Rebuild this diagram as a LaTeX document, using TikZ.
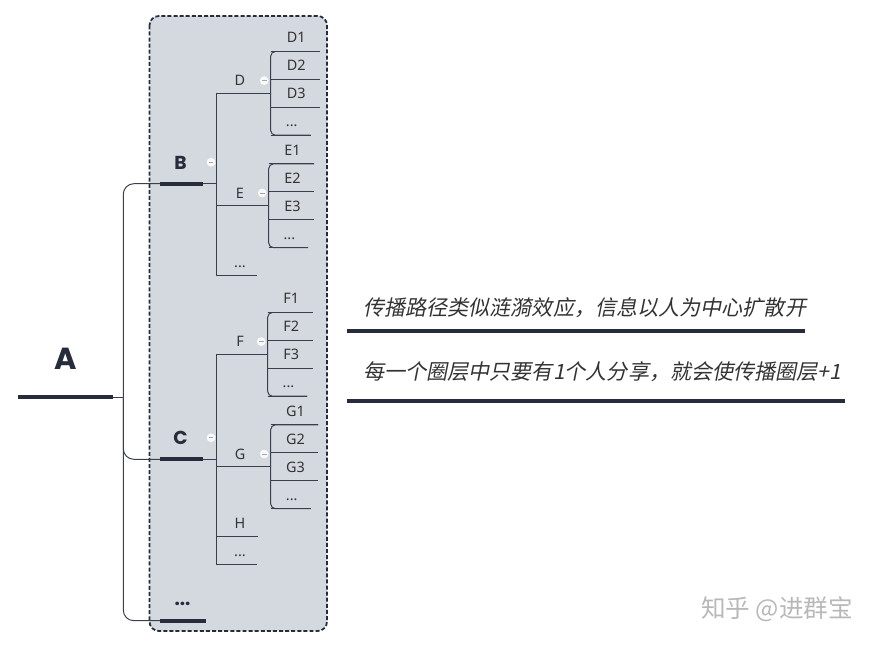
\documentclass[tikz,border=0pt]{standalone}
\usepackage{fontspec}
\setmainfont{Noto Sans}
\newfontfamily\headfont{Poppins}
\newfontfamily\cjk[FakeSlant=0.2]{Noto Sans CJK SC}
\newfontfamily\cjkplain{Noto Sans CJK SC}
\usetikzlibrary{calc}
\usetikzlibrary{positioning}
\definecolor{navy}{HTML}{272C3D}
\definecolor{linkgray}{HTML}{3A3F4C}
\definecolor{panel}{HTML}{D4D8DF}
\definecolor{txt}{HTML}{333333}
\def\more{...}
\tikzset{
link/.style={draw=linkgray, line width=0.85pt},
bar/.style={draw=navy, line width=3.4pt},
panelbox/.style={fill=panel, draw=navy, line width=1.5pt, dash pattern=on 3.4pt off 1.8pt, rounded corners=8pt},
roottopic/.style={font=\headfont\bfseries\fontsize{26}{30}\selectfont, text=navy, inner sep=0pt, anchor=base},
topic/.style={font=\headfont\bfseries\fontsize{16}{19}\selectfont, text=navy, inner sep=0pt, anchor=base},
leaf/.style={font=\fontsize{12.3}{14}\selectfont, text=txt, inner sep=0pt, anchor=base},
note/.style={font=\cjk\fontsize{18}{22}\selectfont, text=txt, inner sep=0pt, anchor=west},
watermark/.style={font=\cjkplain\fontsize{21}{24}\selectfont, text=black!28, inner sep=0pt},
minusdot/.style={circle, fill=white!85!panel, minimum size=7.5pt, inner sep=0pt,
	path picture={\draw[black!35, line width=0.7pt]
		([xshift=-2pt]path picture bounding box.center) -- ([xshift=2pt]path picture bounding box.center);}},
}

\begin{document}
\begin{tikzpicture}[x=0.03cm, y=-0.03cm]
\useasboundingbox (0,0) rectangle (883,648);

%The panel behind the second level
\draw[panelbox] (149.5,16) rectangle (327,631);

%Root
\node[roottopic] (A) at (65.5,369) {A};
\coordinate (As) at (18,397.3);
\coordinate (Ae) at (113,397.3);
\coordinate (Aj) at (123.3,397.3);
\draw[bar] (As) -- (Ae);
\draw[link] (Ae) -- (Aj);

%Second level
\foreach \n/\y in {B/183.7, C/459.3} {
	\node[topic] (\n) at (180.5,\y-14.5) {\n};
	\coordinate (\n s) at (160,\y);
	\coordinate (\n e) at (202.7,\y);
	\coordinate (\n j) at (216.7,\y);
	\draw[bar] (\n s) -- (\n e);
	\draw[link] (\n e) -- (\n j);
	\draw[link, rounded corners=9pt] (\n s) -| (Aj);
	\node[minusdot] (\n f) at (211,\y-21.5) {};
}
\node[topic] (X) at (182.5,605) {\more};
\coordinate (Xs) at (160,620.7);
\coordinate (Xe) at (205.7,620.7);
\draw[bar] (Xs) -- (Xe);
\draw[link, rounded corners=9pt] (Xs) -| (Aj);

%Third level with leaves
\foreach \g/\p/\y/\x/\len/\last in {D/B/93.3/270.7/49/40, E/B/205.7/268.7/45.5/39.3,
	F/C/354.3/267.7/45/39.6, G/C/466.7/270.7/47.6/40} {
	\coordinate (\g j) at (\x,\y);
	\draw[link] (\g j) -| (\p j);
	\node[leaf] (\g) at (240,\y-7.5) {\g};
	\node[minusdot] (\g f) at (\x-6.5,\y-12.7) {};
	\foreach \i/\lbl in {1/\g1, 2/\g2, 3/\g3, 4/\more} {
		\pgfmathsetmacro{\ly}{\y-41.8+27.9*(\i-1)}
		\pgfmathsetmacro{\ll}{\i<4 ? \len : \last}
		\coordinate (\g\i s) at (\x,\ly);
		\coordinate (\g\i e) at (\x+\ll,\ly);
		\draw[link] (\g\i s) -- (\g\i e);
		\node[leaf] (\g\i) at ($(\g\i s)!0.5!(\g\i e)+(1,-8.5)$) {\lbl};
	}
	\draw[link, rounded corners=4pt] (\g1e) -| (\g j) |- (\g4e);
}

%Third level without leaves
\foreach \n/\p/\y/\len/\lbl in {B4/B/275/40.6/\more, H/C/536.3/41.6/H, C4/C/564.3/40.6/\more} {
	\coordinate (\n e) at (216.7+\len,\y);
	\draw[link] (\p j) |- (\n e);
	\node[leaf] (\n) at (240,\y-7.5) {\lbl};
}

%Notes on the right
\node[note] (n1) at (363,308) {传播路径类似涟漪效应，信息以人为中心扩散开};
\coordinate (n1s) at (346.7,330.7);
\coordinate (n1e) at (805,330.7);
\draw[bar] (n1s) -- (n1e);
\node[note] (n2) at (363,372) {每一个圈层中只要有1个人分享，就会使传播圈层+1};
\coordinate (n2s) at (346.7,400.7);
\coordinate (n2e) at (845,400.7);
\draw[bar] (n2s) -- (n2e);

\node[watermark] (wm) at (777,609) {知乎 @进群宝};

\end{tikzpicture}
\end{document}
